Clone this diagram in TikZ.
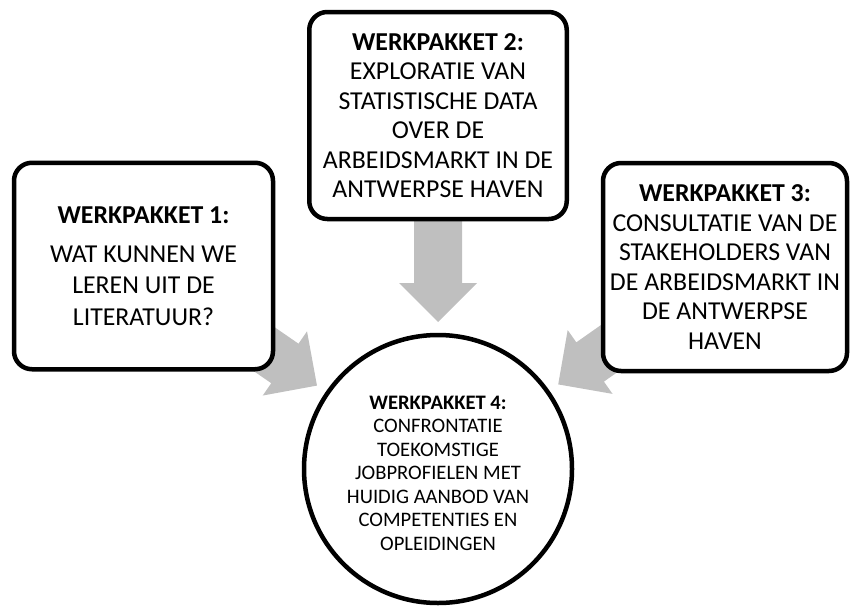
\documentclass[tikz,border=0pt]{standalone}
\usepackage{fontspec}
\setmainfont{Carlito}
\usetikzlibrary{calc}
\definecolor{arrowgray}{RGB}{191,191,191}
\begin{document}
\begin{tikzpicture}[x=1pt,y=-1pt,
  box/.style={draw=black, line width=4.5pt, rounded corners=18pt, fill=white,
    align=center, inner sep=0pt, font=\fontsize{25.8}{29.5}\selectfont},
  hub/.style={circle, draw=black, line width=4.5pt, fill=white,
    inner sep=0pt, minimum size=268pt},
  hubtext/.style={align=center, inner sep=0pt,
    font=\fontsize{20.6}{23.5}\selectfont},
  pics/blockarrow/.style={code={
    \fill[arrowgray] (0,0) -- (-39,-39) -- (-39,-24) -- (-110,-24)
      -- (-110,24) -- (-39,24) -- (-39,39) -- cycle;}}]
\useasboundingbox (0,0) rectangle (851,605);

% node centres (used by the arrows before the shapes are drawn on top)
\coordinate (c1) at (143.5,266);
\coordinate (c2) at (438,115.5);
\coordinate (c3) at (725,267);
\coordinate (c4) at (438,469);

% block arrows, drawn first so that their tails sit under the boxes
\coordinate (t1) at ($(c4)!147pt!(c1)$);
\coordinate (t2) at ($(c4)!147pt!(c2)$);
\coordinate (t3) at ($(c4)!147pt!(c3)$);
\pic[rotate=-34.6] at (t1) {blockarrow};
\pic[rotate=-90] at (t2) {blockarrow};
\pic[rotate=-144.9] at (t3) {blockarrow};

% work packages
\node[box, minimum width=259pt, minimum height=206.5pt,
      font=\fontsize{25.8}{31.5}\selectfont] (wp1) at (c1)
  {\textbf{WERKPAKKET 1:}\\[7pt]WAT KUNNEN WE\\LEREN UIT DE\\LITERATUUR?};
\node[box, minimum width=257.5pt, minimum height=207pt] (wp2) at (c2)
  {\textbf{WERKPAKKET 2:}\\EXPLORATIE VAN\\STATISTISCHE DATA\\OVER DE\\ARBEIDSMARKT IN DE\\ANTWERPSE HAVEN};
\node[box, minimum width=244pt, minimum height=208pt] (wp3) at (c3)
  {\textbf{WERKPAKKET 3:}\\CONSULTATIE VAN DE\\STAKEHOLDERS VAN\\DE ARBEIDSMARKT IN\\DE ANTWERPSE\\HAVEN};
\node[hub] (wp4) at (c4) {};
\node[hubtext] (wp4text) at ($(wp4.center)+(0,4)$)
  {\textbf{WERKPAKKET 4:}\\CONFRONTATIE\\TOEKOMSTIGE\\JOBPROFIELEN MET\\HUIDIG AANBOD VAN\\COMPETENTIES EN\\OPLEIDINGEN};
\end{tikzpicture}
\end{document}
